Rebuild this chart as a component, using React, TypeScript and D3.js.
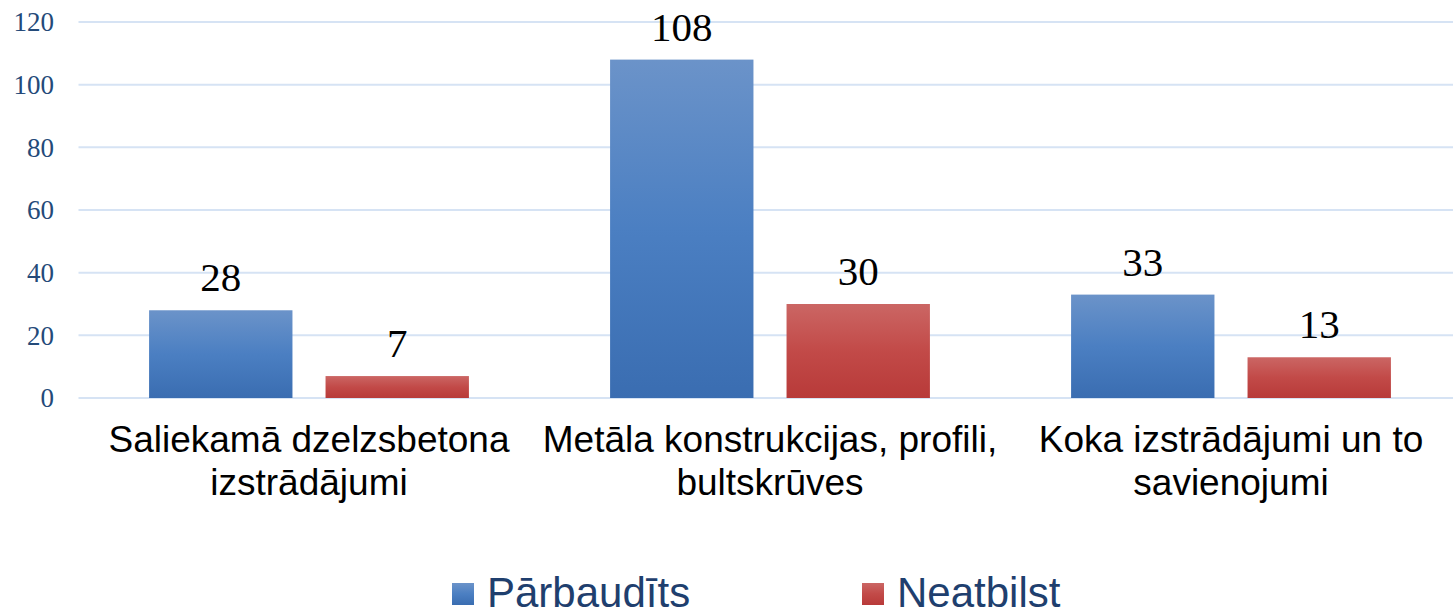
import React from "react";
import * as d3 from "d3";

const categories = [
  ["Saliekamā dzelzsbetona", "izstrādājumi"],
  ["Metāla konstrukcijas, profili,", "bultskrūves"],
  ["Koka izstrādājumi un to", "savienojumi"],
];
const seriesNames = ["Pārbaudīts", "Neatbilst"];
const checked = [28, 108, 33];
const failed = [7, 30, 13];
const yTicks = [0, 20, 40, 60, 80, 100, 120];

const W = 1453,
  H = 611;

export default function App() {
  const margin = { left: 78.5, right: -8.5, top: 22, bottom: 213 };
  const plotBottom = H - margin.bottom;

  const x0 = d3
    .scaleBand()
    .domain(categories.map((_, i) => String(i)))
    .range([margin.left, W - margin.right])
    .paddingInner(0)
    .paddingOuter(0);

  const x1 = d3
    .scaleBand()
    .domain(seriesNames)
    .range([0, x0.bandwidth()])
    .paddingInner(0.1875)
    .paddingOuter(0.4);

  const y = d3.scaleLinear().domain([0, 120]).range([plotBottom, margin.top]);

  const series = [checked, failed];
  const fills = ["url(#gBlue)", "url(#gRed)"];

  return (
    <div style={{ position: "absolute", left: 0, top: 0 }}>
      <svg width={W} height={H} style={{ display: "block", background: "#fff" }}>
        <defs>
          <linearGradient id="gBlue" x1="0" y1="0" x2="0" y2="1">
            <stop offset="0%" stopColor="#6b93c9" />
            <stop offset="50%" stopColor="#4b7fc2" />
            <stop offset="100%" stopColor="#3a6db1" />
          </linearGradient>
          <linearGradient id="gRed" x1="0" y1="0" x2="0" y2="1">
            <stop offset="0%" stopColor="#cb6664" />
            <stop offset="50%" stopColor="#c24a48" />
            <stop offset="100%" stopColor="#b83a39" />
          </linearGradient>
        </defs>

        {yTicks.map((t) => (
          <g key={t}>
            <line
              x1={margin.left}
              x2={W}
              y1={y(t)}
              y2={y(t)}
              stroke="#d6e3f4"
              strokeWidth={2}
            />
            <text
              x={54}
              y={y(t)}
              dy="0.35em"
              textAnchor="end"
              fontFamily="'Liberation Serif', serif"
              fontSize={27}
              fill="#244a79"
            >
              {t}
            </text>
          </g>
        ))}

        {categories.map((c, i) => (
          <g key={i} transform={`translate(${x0(String(i))},0)`}>
            {series.map((s, j) => {
              const bx = x1(seriesNames[j]) as number;
              return (
                <g key={j}>
                  <rect
                    x={bx}
                    y={y(s[i])}
                    width={x1.bandwidth()}
                    height={plotBottom - y(s[i])}
                    fill={fills[j]}
                  />
                  <text
                    x={bx + x1.bandwidth() / 2}
                    y={y(s[i]) - 19}
                    textAnchor="middle"
                    fontFamily="'Liberation Serif', serif"
                    fontSize={41}
                    fill="#000"
                  >
                    {s[i]}
                  </text>
                </g>
              );
            })}
            {c.map((line, k) => (
              <text
                key={k}
                x={x0.bandwidth() / 2}
                y={452 + k * 43}
                textAnchor="middle"
                fontFamily="'Liberation Sans', Arial, sans-serif"
                fontSize={37}
                fill="#000"
              >
                {line}
              </text>
            ))}
          </g>
        ))}

        {seriesNames.map((name, j) => {
          const lx = [452, 862][j];
          return (
            <g key={name}>
              <rect x={lx} y={583} width={22} height={22} fill={fills[j]} />
              <text
                x={lx + 35}
                y={607}
                fontFamily="'Liberation Sans', Arial, sans-serif"
                fontSize={42}
                fill="#1f3f6e"
              >
                {name}
              </text>
            </g>
          );
        })}
      </svg>
    </div>
  );
}
